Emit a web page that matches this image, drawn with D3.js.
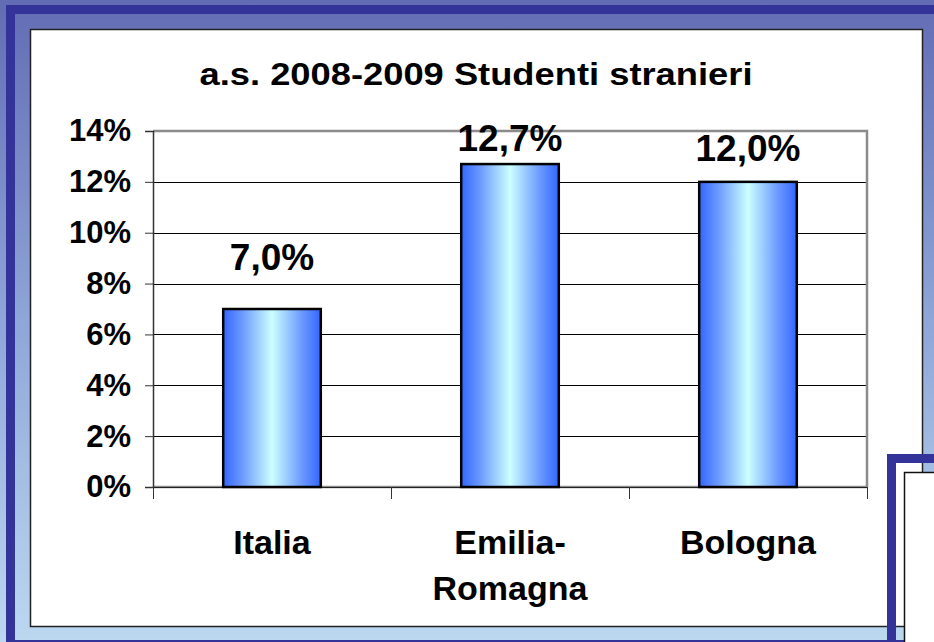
<!DOCTYPE html>
<meta charset="utf-8">
<style>

body {
  margin: 0;
  overflow: hidden;
}

text {
  font-family: "Liberation Sans", Arial, Helvetica, sans-serif;
  font-weight: bold;
  fill: #000;
}

</style>

<svg width="934" height="642"></svg>

<script src="https://cdn.jsdelivr.net/npm/d3@7/dist/d3.min.js"></script>
<script>

// categorie e valori (quota studenti stranieri, a.s. 2008-2009)
var categories = ["Italia", "Emilia-Romagna", "Bologna"];
var values = [0.070, 0.127, 0.120];
var valueLabels = ["7,0%", "12,7%", "12,0%"];
var yTicks = [0, 0.02, 0.04, 0.06, 0.08, 0.10, 0.12, 0.14];
var title = "a.s. 2008-2009 Studenti stranieri";

var svg = d3.select("svg"),
    W = +svg.attr("width"),
    H = +svg.attr("height");

var defs = svg.append("defs");

// sfondo della slide
var bg = defs.append("linearGradient")
    .attr("id", "bg")
    .attr("x1", 0).attr("y1", 0).attr("x2", 0).attr("y2", 1);
bg.append("stop").attr("offset", 0).attr("stop-color", "#626cb4");
bg.append("stop").attr("offset", 0.5).attr("stop-color", "#8ea6d8");
bg.append("stop").attr("offset", 1).attr("stop-color", "#bcd8f0");

// riempimento delle barre
var barFill = defs.append("linearGradient")
    .attr("id", "barFill")
    .attr("x1", 0).attr("y1", 0).attr("x2", 1).attr("y2", 0);
barFill.append("stop").attr("offset", 0).attr("stop-color", "#3366ff");
barFill.append("stop").attr("offset", 0.2).attr("stop-color", "#6d9bff");
barFill.append("stop").attr("offset", 0.5).attr("stop-color", "#ccffff");
barFill.append("stop").attr("offset", 0.8).attr("stop-color", "#6d9bff");
barFill.append("stop").attr("offset", 1).attr("stop-color", "#3366ff");

svg.append("rect")
    .attr("width", W).attr("height", H)
    .attr("fill", "url(#bg)");

// cornice blu scuro
var frame = "#333399";
svg.append("rect").attr("x", 6).attr("y", 5).attr("width", W - 6).attr("height", 9).attr("fill", frame);
svg.append("rect").attr("x", 6).attr("y", 5).attr("width", 9).attr("height", H - 5).attr("fill", frame);
svg.append("rect").attr("x", 6).attr("y", 640).attr("width", W - 6).attr("height", 2).attr("fill", frame);

// riquadro del grafico
svg.append("rect")
    .attr("x", 30.5).attr("y", 29.5)
    .attr("width", 892).attr("height", 597)
    .attr("fill", "#fff")
    .attr("stroke", "#222")
    .attr("stroke-width", 1.5);

var plot = {left: 153, right: 867, top: 131, bottom: 487};

var x = d3.scaleBand()
    .domain(categories)
    .range([plot.left, plot.right])
    .paddingInner(0.59)
    .paddingOuter(0.295);

var y = d3.scaleLinear()
    .domain([0, 0.14])
    .range([plot.bottom, plot.top]);

var g = svg.append("g");

// griglia
g.append("g")
  .selectAll("line")
  .data(yTicks.slice(1, -1))
  .enter().append("line")
    .attr("x1", plot.left).attr("x2", plot.right)
    .attr("y1", function(d) { return Math.round(y(d)) + 0.5; })
    .attr("y2", function(d) { return Math.round(y(d)) + 0.5; })
    .attr("stroke", "#000")
    .attr("stroke-width", 1);

// bordo area del tracciato
g.append("path")
    .attr("d", "M" + plot.left + "," + y(0.14) + "H" + plot.right + "V" + plot.bottom)
    .attr("fill", "none")
    .attr("stroke", "#8c8c8c")
    .attr("stroke-width", 2.5);

g.append("line")
    .attr("x1", plot.left).attr("x2", plot.right)
    .attr("y1", plot.bottom).attr("y2", plot.bottom)
    .attr("stroke", "#8c8c8c")
    .attr("stroke-width", 2.5);

// asse y
var yAxis = g.append("g")
    .attr("transform", "translate(" + plot.left + ",0)")
    .call(d3.axisLeft(y)
        .tickValues(yTicks)
        .tickSize(8)
        .tickPadding(14)
        .tickFormat(function(d) { return Math.round(d * 100) + "%"; }));
yAxis.select(".domain").attr("stroke", "#333").attr("stroke-width", 1.5);
yAxis.selectAll(".tick line").attr("stroke", "#333");
yAxis.selectAll("text")
    .attr("font-size", 31)
    .attr("font-family", null)
    .attr("fill", "#000");

// tacche tra le categorie
var xEdges = d3.scaleLinear().domain([0, categories.length]).range([plot.left, plot.right]);
var xAxis = g.append("g")
    .attr("transform", "translate(0," + plot.bottom + ")")
    .call(d3.axisBottom(xEdges)
        .tickValues(d3.range(categories.length + 1))
        .tickSize(12)
        .tickFormat(""));
xAxis.select(".domain").attr("stroke", "#222").attr("stroke-width", 1);
xAxis.selectAll(".tick line").attr("stroke", "#333");

// barre
g.append("g")
  .selectAll("rect")
  .data(values)
  .enter().append("rect")
    .attr("x", function(d, i) { return x(categories[i]); })
    .attr("y", function(d) { return y(d); })
    .attr("width", x.bandwidth())
    .attr("height", function(d) { return y(0) - y(d); })
    .attr("fill", "url(#barFill)")
    .attr("stroke", "#000")
    .attr("stroke-width", 2.5);

// etichette dei valori (spostate a mano come nell'originale)
var labelGap = [39, 13, 21];
g.append("g")
  .selectAll("text")
  .data(values)
  .enter().append("text")
    .attr("x", function(d, i) { return x(categories[i]) + x.bandwidth() / 2; })
    .attr("y", function(d, i) { return y(d) - labelGap[i]; })
    .attr("text-anchor", "middle")
    .attr("font-size", 37)
    .text(function(d, i) { return valueLabels[i]; });

// etichette delle categorie, a capo dopo il trattino
var catText = g.append("g")
  .selectAll("text")
  .data(categories)
  .enter().append("text")
    .attr("x", function(d) { return x(d) + x.bandwidth() / 2; })
    .attr("y", 554)
    .attr("text-anchor", "middle")
    .attr("font-size", 34);

catText.each(function(d) {
  var parts = d.split(/(?<=-)/),
      t = d3.select(this);
  parts.forEach(function(p, k) {
    t.append("tspan")
        .attr("x", t.attr("x"))
        .attr("dy", k ? 46 : 0)
        .text(p);
  });
});

// titolo (più largo, come nell'originale)
svg.append("text")
    .attr("x", 476)
    .attr("y", 85)
    .attr("text-anchor", "middle")
    .attr("font-size", 31)
    .attr("textLength", 553)
    .attr("lengthAdjust", "spacingAndGlyphs")
    .text(title);

// riquadro sovrapposto in basso a destra
svg.append("rect")
    .attr("x", 891.5).attr("y", 458.5)
    .attr("width", 100).attr("height", 300)
    .attr("fill", "none")
    .attr("stroke", frame)
    .attr("stroke-width", 9);
svg.append("rect")
    .attr("x", 904.5).attr("y", 472.5)
    .attr("width", 100).attr("height", 300)
    .attr("fill", "#fff")
    .attr("stroke", "#111")
    .attr("stroke-width", 1.5);

</script>
